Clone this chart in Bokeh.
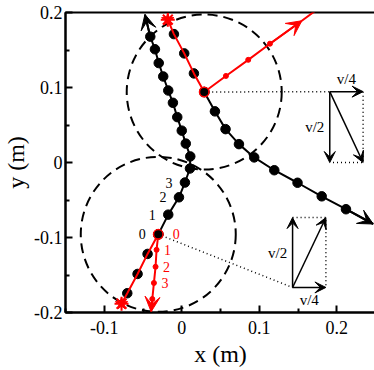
from bokeh.plotting import figure
from bokeh.models import Range1d, FixedTicker, Arrow, VeeHead, ColumnDataSource
from bokeh.core.properties import value
from bokeh.embed import file_html
from bokeh.resources import INLINE

FONT = "Liberation Serif"

# ---- axes ----
x_ticks = [-0.1, 0.0, 0.1, 0.2]
x_tick_labels = ["-0.1", "0", "0.1", "0.2"]
x_minor_ticks = [-0.15, -0.05, 0.05, 0.15, 0.25]
y_ticks = [-0.2, -0.1, 0.0, 0.1, 0.2]
y_tick_labels = ["-0.2", "-0.1", "0", "0.1", "0.2"]
y_minor_ticks = [-0.15, -0.05, 0.05, 0.15]

# ---- collision points (centres of dashed circles) ----
collision_x = [-0.0303, 0.0290]
collision_y = [-0.0958, 0.0940]
circle_radius = [0.1, 0.1]

# ---- particle A (lower collision): incoming and outgoing (last point = arrow tip) ----
a_in_x = [-0.0777, -0.0703, -0.0570, -0.0441, -0.0303]
a_in_y = [-0.1882, -0.1743, -0.1486, -0.1219, -0.0958]
a_out_x = [-0.0303, -0.0174, -0.0036, 0.0041, 0.0106, 0.0110, 0.0052, 0.0000,
           -0.0058, -0.0114, -0.0174, -0.0239, -0.0297, -0.0346, -0.0406, -0.0475]
a_out_y = [-0.0958, -0.0695, -0.0464, -0.0267, -0.0080, 0.0081, 0.0252, 0.0425,
           0.0605, 0.0796, 0.0960, 0.1147, 0.1326, 0.1510, 0.1678, 0.1974]
# red (other body) after lower collision; last point = arrow tip
red_a_x = [-0.0303, -0.0325, -0.0338, -0.0359, -0.0380, -0.0395]
red_a_y = [-0.0958, -0.1164, -0.1390, -0.1606, -0.1820, -0.1990]

# ---- particle B (upper collision) ----
b_in_x = [-0.0180, -0.0101, 0.0032, 0.0157, 0.0290]
b_in_y = [0.1905, 0.1712, 0.1455, 0.1188, 0.0940]
b_out_x = [0.0290, 0.0428, 0.0565, 0.0738, 0.0935, 0.1194, 0.1494, 0.1806, 0.2119, 0.2471]
b_out_y = [0.0940, 0.0682, 0.0445, 0.0245, 0.0068, -0.0103, -0.0270, -0.0451, -0.0623, -0.0820]
# red after upper collision: dots, arrow tip, line end
red_b_x = [0.0290, 0.0570, 0.0858, 0.1138, 0.1550, 0.1720]
red_b_y = [0.0940, 0.1154, 0.1369, 0.1584, 0.1890, 0.2020]

# ---- step numbers ----
step_labels = ["0", "1", "2", "3"]

# ---- velocity diagrams ----
vec_origin_x = [0.191, 0.143]
vec_origin_y = [0.0945, -0.1666]
vec_dx = [0.043, 0.043]      # v/4 (horizontal)
vec_dy = [-0.0945, 0.0932]   # v/2 (vertical)

p = figure(frame_width=310, frame_height=300,
           x_range=Range1d(-0.15, 0.25), y_range=Range1d(-0.2, 0.2),
           output_backend="svg", toolbar_location=None,
           min_border_left=10, min_border_right=2, min_border_top=12, min_border_bottom=5)
p.grid.visible = False
p.outline_line_color = "black"
p.outline_line_width = 2
p.background_fill_color = "white"

p.xaxis.ticker = FixedTicker(ticks=x_ticks, minor_ticks=x_minor_ticks)
p.yaxis.ticker = FixedTicker(ticks=y_ticks, minor_ticks=y_minor_ticks)
p.xaxis.major_label_overrides = dict(zip(x_ticks, x_tick_labels))
p.yaxis.major_label_overrides = dict(zip(y_ticks, y_tick_labels))
p.xaxis.axis_label = "x (m)"
p.yaxis.axis_label = "y (m)"
for ax in (p.xaxis[0], p.yaxis[0]):
    ax.axis_line_width = 2
    ax.axis_line_color = "black"
    ax.major_tick_in = 7
    ax.major_tick_out = 0
    ax.minor_tick_in = 4
    ax.minor_tick_out = 0
    ax.major_tick_line_width = 2
    ax.minor_tick_line_width = 2
    ax.major_tick_line_color = "black"
    ax.minor_tick_line_color = "black"
    ax.major_label_text_font = FONT
    ax.major_label_text_font_size = "18px"
    ax.major_label_text_color = "black"
    ax.axis_label_text_font = FONT
    ax.axis_label_text_font_size = "24px"
    ax.axis_label_text_font_style = "normal"
    ax.axis_label_text_color = "black"
p.xaxis.major_label_standoff = 8
p.xaxis.axis_label_standoff = 4
p.yaxis.major_label_standoff = 3
p.yaxis.axis_label_standoff = 2

# dashed circles
p.circle(collision_x, collision_y, radius=circle_radius, fill_color=None,
         line_color="black", line_width=2, line_dash="10 6")

# dotted guide lines from collisions to velocity diagrams
p.segment(x0=collision_x, y0=collision_y,
          x1=[vec_origin_x[1], vec_origin_x[0]], y1=[vec_origin_y[1], vec_origin_y[0]],
          line_color="black", line_width=1.5, line_dash="1 3")

# dotted completion of velocity parallelograms
ox, oy, dx, dy = vec_origin_x, vec_origin_y, vec_dx, vec_dy
for i in range(2):
    if dy[i] < 0:
        p.line([ox[i] + dx[i], ox[i] + dx[i], ox[i]], [oy[i], oy[i] + dy[i], oy[i] + dy[i]],
               line_color="black", line_width=1.5, line_dash="1 3")
    else:
        p.line([ox[i], ox[i] + dx[i], ox[i] + dx[i]], [oy[i] + dy[i], oy[i] + dy[i], oy[i]],
               line_color="black", line_width=1.5, line_dash="1 3")

# black trajectories
p.line(a_out_x, a_out_y, line_color="black", line_width=2)
p.scatter(a_out_x[:-1], a_out_y[:-1], size=9.5, color="black")
p.line(b_out_x, b_out_y, line_color="black", line_width=2)
p.scatter(b_out_x[:-1], b_out_y[:-1], size=9.5, color="black")
p.scatter(a_in_x[1:], a_in_y[1:], size=9.5, color="black")
p.scatter(b_in_x[1:], b_in_y[1:], size=9.5, color="black")

# red trajectories
p.line(a_in_x, a_in_y, line_color="red", line_width=2)
p.line(b_in_x, b_in_y, line_color="red", line_width=2)
p.line(red_a_x, red_a_y, line_color="red", line_width=2)
p.scatter(red_a_x[1:-1], red_a_y[1:-1], size=5, color="red")
p.line(red_b_x, red_b_y, line_color="red", line_width=2)
p.scatter(red_b_x[1:4], red_b_y[1:4], size=5, color="red")

# collision markers
p.scatter(collision_x, collision_y, size=9.5, fill_color="black", line_color="red", line_width=1.5)

# start stars
p.scatter([a_in_x[0], b_in_x[0]], [a_in_y[0], b_in_y[0]], marker="star", size=13,
          fill_color="red", line_color="red")
p.scatter([a_in_x[0], b_in_x[0]], [a_in_y[0], b_in_y[0]], marker="asterisk", size=14,
          line_color="red", line_width=2)

# trajectory arrowheads
def add_arrow(xs, ys, color, size, lw):
    src = ColumnDataSource(dict(x0=xs[0], y0=ys[0], x1=xs[1], y1=ys[1]))
    p.add_layout(Arrow(end=VeeHead(size=size, fill_color=color, line_color=color, line_width=1),
                       x_start="x0", y_start="y0", x_end="x1", y_end="y1",
                       line_color=color, line_width=lw, source=src))

add_arrow(([a_out_x[-2], b_out_x[-2]], [a_out_x[-1], b_out_x[-1]]),
          ([a_out_y[-2], b_out_y[-2]], [a_out_y[-1], b_out_y[-1]]), "black", 15, 2)
add_arrow(([red_a_x[-2], red_b_x[3]], [red_a_x[-1], red_b_x[4]]),
          ([red_a_y[-2], red_b_y[3]], [red_a_y[-1], red_b_y[4]]), "red", 15, 2)

# velocity vectors
hx1 = [ox[i] + dx[i] for i in range(2)]
vy1 = [oy[i] + dy[i] for i in range(2)]
add_arrow((ox + ox + ox, hx1 + ox + hx1), (oy + oy + oy, oy + vy1 + vy1), "black", 11, 1.5)

# vector labels
p.text([ox[0] + dx[0] / 2], [oy[0]], text=["v/4"], y_offset=-13,
       text_font=value(FONT), text_font_size="15px", text_align="center", text_baseline="middle")
p.text([ox[1] + dx[1] / 2], [oy[1]], text=["v/4"], y_offset=13,
       text_font=value(FONT), text_font_size="15px", text_align="center", text_baseline="middle")
p.text(ox, [oy[i] + dy[i] / 2 for i in range(2)], text=["v/2", "v/2"], x_offset=-15,
       text_font=value(FONT), text_font_size="15px", text_align="center", text_baseline="middle")

# step numbers
p.text(a_out_x[:4], a_out_y[:4], text=step_labels, x_offset=-16,
       text_font=value(FONT), text_font_size="14px", text_align="center",
       text_baseline="middle", text_color="black")
p.text(red_a_x[:4], red_a_y[:4], text=step_labels, x_offset=[18, 11, 11, 11],
       text_font=value(FONT), text_font_size="14px", text_align="center",
       text_baseline="middle", text_color="red")

open("out.html", "w").write(file_html(p, INLINE))
